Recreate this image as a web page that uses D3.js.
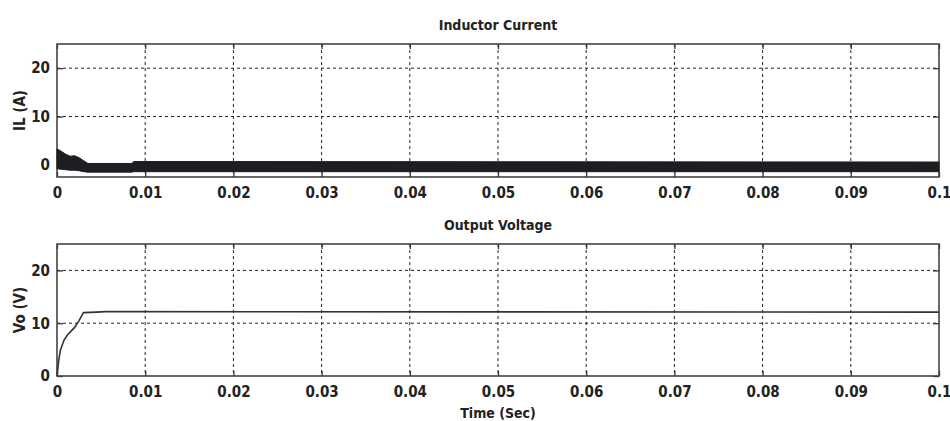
<!DOCTYPE html>
<html>
<head>
<meta charset="utf-8">
<script src="https://cdn.jsdelivr.net/npm/d3@7"></script>
<style>
  body { margin: 0; background: #fff; }
  text { font-family: "Liberation Sans Narrow", "DejaVu Sans Condensed", "DejaVu Sans", sans-serif; font-stretch: condensed; font-weight: bold; fill: #222; }
</style>
</head>
<body>
<div id="chart"></div>
<script>
// x axis (seconds)
const xTicks = [0, 0.01, 0.02, 0.03, 0.04, 0.05, 0.06, 0.07, 0.08, 0.09, 0.1];
const xTickLabels = ["0", "0.01", "0.02", "0.03", "0.04", "0.05", "0.06", "0.07", "0.08", "0.09", "0.1"];
const yTicks = [0, 10, 20];

// inductor current: switching ripple envelope (upper / lower)
const ilTime  = [0, 0.0005, 0.001, 0.0015, 0.002, 0.0025, 0.003, 0.0035, 0.0085, 0.0087, 0.1];
const ilUpper = [3.3, 2.8, 2.2, 1.8, 1.9, 1.5, 0.9, 0.3, 0.3, 0.7, 0.6];
const ilLower = [-0.8, -0.9, -1.0, -1.1, -1.1, -1.2, -1.4, -1.5, -1.5, -1.4, -1.4];

// output voltage
const voTime = [0, 0.0002, 0.0004, 0.0008, 0.0012, 0.0016, 0.002, 0.0025, 0.003, 0.0045, 0.0055, 0.1];
const voVal  = [0, 3.0, 5.0, 6.8, 7.8, 8.5, 9.2, 10.5, 12.0, 12.1, 12.2, 12.1];

const width = 950;
const height = 421;
const svg = d3.select("#chart").append("svg")
  .attr("width", width)
  .attr("height", height);

const x = d3.scaleLinear().domain([0, 0.1]).range([57, 939]);

function panel(top, bottom, yDomain, title, ylabel) {
  const y = d3.scaleLinear().domain(yDomain).range([bottom, top]);
  const g = svg.append("g");

  // grid
  g.selectAll(".vgrid").data(xTicks.slice(1, -1)).join("line")
    .attr("x1", d => x(d)).attr("x2", d => x(d))
    .attr("y1", top).attr("y2", bottom)
    .attr("stroke", "#222").attr("stroke-width", 1)
    .attr("stroke-dasharray", "3,3");
  g.selectAll(".hgrid").data(yTicks.filter(d => y(d) < bottom - 1)).join("line")
    .attr("x1", x(0)).attr("x2", x(0.1))
    .attr("y1", d => y(d)).attr("y2", d => y(d))
    .attr("stroke", "#222").attr("stroke-width", 1)
    .attr("stroke-dasharray", "3,3");

  // axes with inward ticks
  const xa = g.append("g").attr("transform", `translate(0,${bottom})`)
    .call(d3.axisBottom(x).tickValues(xTicks).tickSize(-5).tickPadding(9)
      .tickFormat((d, i) => xTickLabels[i]));
  g.append("g").attr("transform", `translate(${x(0)},0)`)
    .call(d3.axisLeft(y).tickValues(yTicks).tickSize(-6).tickPadding(7));
  g.append("g").attr("transform", `translate(${x(0.1)},0)`)
    .call(d3.axisRight(y).tickValues(yTicks).tickSize(-6).tickFormat(""));
  g.append("g").attr("transform", `translate(0,${top})`)
    .call(d3.axisTop(x).tickValues(xTicks).tickSize(-5).tickFormat(""));
  g.selectAll(".domain").remove();
  g.selectAll(".tick line").attr("stroke", "#333").attr("stroke-width", 1.3);
  g.selectAll(".tick text").attr("font-size", 15).attr("fill", "#222");
  xa.selectAll("text").attr("dy", "0.8em");

  g.append("rect")
    .attr("x", x(0)).attr("y", top)
    .attr("width", x(0.1) - x(0)).attr("height", bottom - top)
    .attr("fill", "none").attr("stroke", "#444").attr("stroke-width", 1.6);

  g.append("text")
    .attr("x", (x(0) + x(0.1)) / 2).attr("y", top - 14)
    .attr("text-anchor", "middle").attr("font-size", 14)
    .text(title);

  g.append("text")
    .attr("transform", `translate(25,${(top + bottom) / 2}) rotate(-90)`)
    .attr("text-anchor", "middle").attr("font-size", 15)
    .text(ylabel);

  return { g, y };
}

const p1 = panel(44, 177, [-2.5, 25], "Inductor Current", "IL (A)");
const p2 = panel(244, 376, [0, 25], "Output Voltage", "Vo (V)");

const band = d3.area()
  .x((d, i) => x(ilTime[i]))
  .y0((d, i) => p1.y(ilLower[i]))
  .y1((d, i) => p1.y(ilUpper[i]));
p1.g.append("path")
  .attr("d", band(ilTime))
  .attr("fill", "#1c1e22")
  .attr("stroke", "#1c1e22")
  .attr("stroke-width", 1);

const vline = d3.line()
  .x((d, i) => x(voTime[i]))
  .y((d, i) => p2.y(voVal[i]));
p2.g.append("path")
  .attr("d", vline(voTime))
  .attr("fill", "none")
  .attr("stroke", "#333")
  .attr("stroke-width", 1.6);

svg.append("text")
  .attr("x", (x(0) + x(0.1)) / 2).attr("y", 418)
  .attr("text-anchor", "middle").attr("font-size", 14)
  .text("Time (Sec)");
</script>
</body>
</html>
